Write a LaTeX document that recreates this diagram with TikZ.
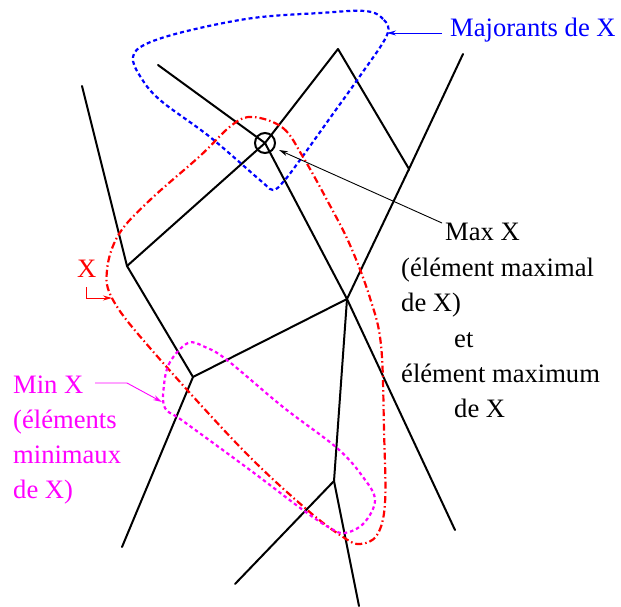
\documentclass[tikz,border=0pt]{standalone}
\usepackage{fontspec}
\setmainfont{Liberation Serif}
\usetikzlibrary{arrows.meta}
\definecolor{setblue}{RGB}{0,0,255}
\definecolor{setred}{RGB}{255,0,0}
\definecolor{setmag}{RGB}{255,0,255}
\begin{document}
\begin{tikzpicture}[x=1pt,y=-1pt,
  edge/.style={line width=2pt,line cap=round},
  thinarrow/.style={line width=0.9pt,-{Stealth[length=9pt,width=5pt]}},
  lbl/.style={anchor=base west,inner sep=0pt,font=\fontsize{26.6}{35}\selectfont},
  majset/.style={draw=setblue,line width=2.2pt,dash pattern=on 4pt off 3pt},
  xset/.style={draw=setred,line width=2.2pt,dash pattern=on 7pt off 3pt on 1.5pt off 3pt},
  minset/.style={draw=setmag,line width=2.2pt,dash pattern=on 3.5pt off 3pt}]
\useasboundingbox (0,0) rectangle (621,607);
% graph vertices
\coordinate (a) at (158,65);
\coordinate (p) at (338,49);
\coordinate (r) at (409,169);
\coordinate (t) at (463,54);
\coordinate (q) at (347,299);
\coordinate (l1) at (82,86);
\coordinate (v) at (127,266);
\coordinate (w) at (193,377);
\coordinate (bl) at (122,547);
\coordinate (m) at (334,481);
\coordinate (br) at (455,530);
\coordinate (b1) at (235,584);
\coordinate (b2) at (359,606);
\node[circle,draw,line width=2pt,minimum size=20pt,inner sep=0pt] (c) at (265,143) {};
% edges
\draw[edge] (a) -- (c.center) -- (q);
\draw[edge] (v) -- (c.center) -- (p);
\draw[edge] (p) -- (r) -- (t);
\draw[edge] (r) -- (q);
\draw[edge] (l1) -- (v) -- (w) -- (q);
\draw[edge] (w) -- (bl);
\draw[edge] (q) -- (m);
\draw[edge] (q) -- (br);
\draw[edge] (m) -- (b1);
\draw[edge] (m) -- (b2);
% sets
\draw[majset] plot[smooth cycle,tension=0.6] coordinates {
  (387,35) (383,19) (365,11) (320,13) (253,18) (187,31) (146,44) (133,57)
  (140,76) (160,100) (210,137) (261,181) (273,190) (284,181) (300,160)
  (330,118) (360,76)};
\draw[xset] plot[smooth cycle,tension=0.6] coordinates {
  (253,117) (283,128) (303,157) (327,200) (350,245) (370,298) (381,345)
  (384,430) (385,503) (377,535) (360,544) (343,537) (305,508) (240,447)
  (150,348) (113,300) (107,270) (119,234) (150,200) (200,156) (232,125)};
\draw[minset] plot[smooth cycle,tension=0.6] coordinates {
  (188,343) (170,362) (164,385) (165,408) (183,421) (250,470) (303,510)
  (330,528) (345,533) (364,523) (375,500) (363,477) (337,448) (283,407)
  (227,360) (205,347)};
% labels
\node[lbl,text=setblue] (maj) at (450,37) {Majorants de X};
\coordinate (majstart) at (442,33);
\coordinate (majend) at (387,33);
\draw[thinarrow,draw=setblue] (majstart) -- (majend);
\node[lbl,text=setred] (xl) at (77,277) {X};
\coordinate (xa) at (86,287);
\coordinate (xb) at (86,298);
\coordinate (xc) at (112,298);
\draw[thinarrow,draw=setred] (xa) -- (xb) -- (xc);
\node[lbl] (mx1) at (445,240) {Max X};
\node[lbl] (mx2) at (401,276) {(élément maximal};
\node[lbl] (mx3) at (401,311) {de X)};
\node[lbl] (mx4) at (454,347) {et};
\node[lbl] (mx5) at (401,382) {élément maximum};
\node[lbl] (mx6) at (454,417) {de X};
\coordinate (mxa) at (442,223);
\coordinate (mxb) at (279,150);
\draw[thinarrow] (mxa) -- (mxb);
\node[lbl,text=setmag] (mn1) at (13,393) {Min X};
\node[lbl,text=setmag] (mn2) at (13,428) {(éléments};
\node[lbl,text=setmag] (mn3) at (13,463) {minimaux};
\node[lbl,text=setmag] (mn4) at (13,498) {de X)};
\coordinate (mna) at (95,383);
\coordinate (mnb) at (127,383);
\coordinate (mnc) at (162,402);
\draw[thinarrow,draw=setmag] (mna) -- (mnb) -- (mnc);
\end{tikzpicture}
\end{document}
